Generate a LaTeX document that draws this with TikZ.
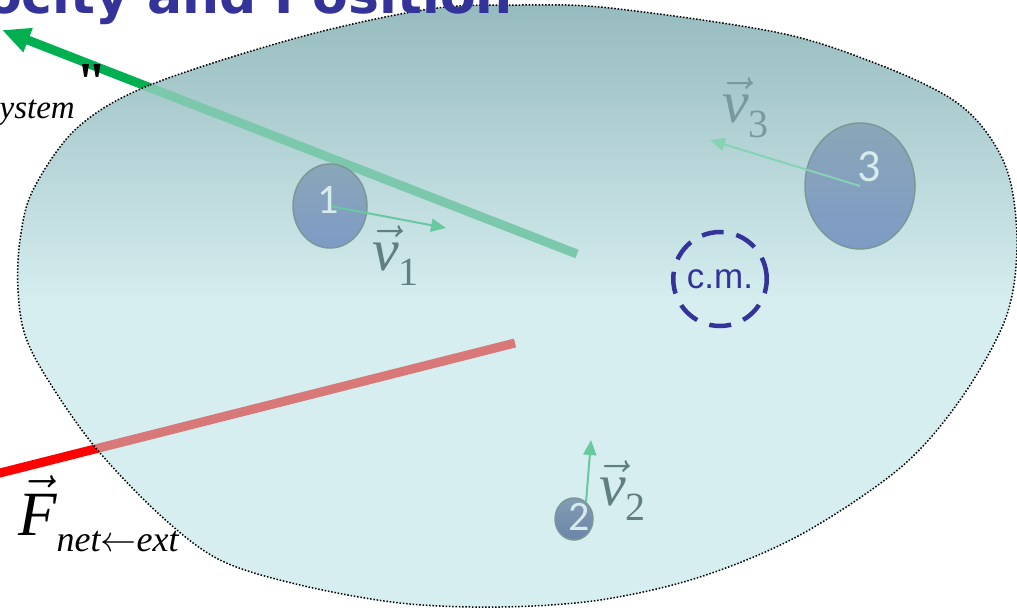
\documentclass[tikz,border=0pt]{standalone}
\usepackage{fix-cm}
\usepackage{amsmath}
\usepackage{fontspec}
\setmainfont{Liberation Serif}
\newfontfamily\titlefont{DejaVu Sans}
\newfontfamily\numfont{Carlito}
\newfontfamily\cmfont{Liberation Sans}
\newfontfamily\quotefont{Liberation Serif}[Ligatures=TeXOff]
\usetikzlibrary{arrows.meta,positioning,shapes.geometric}
\definecolor{titleblue}{HTML}{333399}
\definecolor{sysgreen}{HTML}{00B050}
\definecolor{sysgreenin}{HTML}{7CC8AC}
\definecolor{extred}{HTML}{FF0000}
\definecolor{extredin}{HTML}{D87878}
\definecolor{blobtop}{HTML}{96BBBE}
\definecolor{blobbot}{HTML}{D6EEF0}
\definecolor{velgreen}{HTML}{68C8A0}
\definecolor{veltext}{HTML}{5F7F80}
\definecolor{pfilltop}{HTML}{8AA6B8}
\definecolor{pfillbot}{HTML}{7E9BC6}
\definecolor{pborder}{HTML}{7A9896}
\definecolor{plabel}{HTML}{D6ECEC}
\newcommand{\blobpath}{plot[smooth cycle, tension=0.55] coordinates {
  (77,128) (150,85) (300,37) (430,9) (520,5) (610,8) (780,33) (880,65)
  (950,98) (987,133) (1010,180) (1017,250) (1005,320) (960,400) (900,468)
  (800,535) (700,577) (600,600) (500,607) (400,603) (300,585) (220,560)
  (160,515) (95,447) (48,380) (25,335) (18,290) (20,240) (33,190)}}
\tikzset{
  sysforce/.style={-{Triangle[length=28pt,width=24pt]}, line width=9pt, draw=sysgreen},
  netforce/.style={line width=9pt, draw=extred},
  outline/.style={draw=black, line width=1.5pt, dash pattern=on 1.5pt off 1.8pt},
  particle/.style={ellipse, draw=pborder, line width=1.5pt, top color=pfilltop,
    bottom color=pfillbot, inner sep=0pt},
  partlabel/.style={text=plabel, inner sep=0pt, font=\numfont\fontsize{42}{42}\selectfont},
  velarrow/.style={-{Triangle[length=15pt,width=13pt]}, line width=2pt, draw=velgreen},
  vellabel/.style={text=veltext, inner sep=0pt, anchor=base west,
    font=\fontsize{60}{60}\selectfont},
  cmring/.style={ellipse, draw=titleblue, line width=4.5pt, dash pattern=on 22pt off 13pt,
    minimum width=84pt, minimum height=94pt, inner sep=0pt, text=titleblue,
    font=\cmfont\fontsize{35}{35}\selectfont}
}
\newcommand{\sub}[1]{\raisebox{-15pt}{\fontsize{40}{40}\selectfont #1}}

\begin{document}
\begin{tikzpicture}[x=1pt,y=-1pt]
  \path[use as bounding box, fill=white] (0,0) rectangle (1017,611);

  \coordinate (sysstart) at (577,254);
  \coordinate (systip) at (2,30);
  \coordinate (fstart) at (515,343);
  \coordinate (fend) at (-10,475.5);
  \draw[sysforce] (sysstart) -- (systip);
  \draw[netforce] (fstart) -- (fend);

  % the system region
  \shade[top color=blobtop, bottom color=blobbot, middle color=blobbot] \blobpath;
  \begin{scope}
    \clip \blobpath;
    \draw[sysforce, -, draw=sysgreenin] (sysstart) -- (systip);
    \draw[netforce, draw=extredin] (fstart) -- (fend);
  \end{scope}
  \draw[outline] \blobpath;

  \node[particle, minimum width=74pt, minimum height=84pt] (p1) at (330,206) {};
  \node[particle, minimum width=110pt, minimum height=126pt] (p3) at (860,186) {};
  \node[particle, minimum width=38pt, minimum height=42pt,
    top color=pfillbot!80!black!20!pfilltop, bottom color=pfillbot!85!black] (p2) at (574,519) {};
  \node[cmring] (cm) at (720,279) {c.m.};

  \coordinate (v1tip) at (446,228);
  \coordinate (v2tip) at (591,440);
  \coordinate (v3tip) at (710,140);
  \draw[velarrow] (p1.center) -- (v1tip);
  \draw[velarrow] (p2.55) -- (v2tip);
  \draw[velarrow, draw=velgreen!80!white] (p3.center) -- (v3tip);

  \node[partlabel] (n1) at (328,200) {1};
  \node[partlabel] (n2) at (579,517) {2};
  \node[partlabel, font=\numfont\fontsize{46}{46}\selectfont] (n3) at (869,167) {3};

  \node[vellabel] (lv1) at (372,270) {$\vec{\textit{v}}$\sub{1}};
  \node[vellabel] (lv2) at (599,505) {$\vec{\textit{v}}$\sub{2}};
  \node[vellabel, text=veltext!55!blobtop] (lv3) at (722,122) {$\vec{\textit{v}}$\sub{3}};

  \node[anchor=base west, inner sep=0pt, font=\fontsize{63}{63}\selectfont] (lf) at (18,535)
    {$\vec{\textit{F}}$\raisebox{-16pt}{\fontsize{36}{36}\selectfont\itshape net$\leftarrow$ext}};
  \node[anchor=base east, inner sep=0pt, font=\itshape\fontsize{33}{33}\selectfont] (lsys) at (75,118) {system};
  \node[anchor=base, inner sep=0pt, font=\quotefont\bfseries\fontsize{55}{55}\selectfont] (lq) at (92,100) {"};

  \node[anchor=base east, inner sep=0pt, text=titleblue, font=\titlefont\bfseries\fontsize{52}{52}\selectfont]
    (ttl) at (513,13) {Velocity and Position};
\end{tikzpicture}
\end{document}
